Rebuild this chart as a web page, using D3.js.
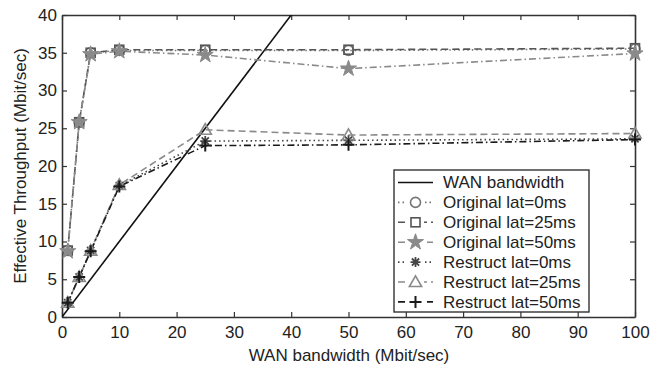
<!DOCTYPE html>
<html><head><meta charset="utf-8">
<script src="https://cdn.jsdelivr.net/npm/d3@7"></script>
<style>body{margin:0;background:#fff}svg{display:block}text{font-family:"Liberation Sans",Arial,sans-serif;fill:#222}</style>
</head><body>
<svg id="c" width="658" height="367"></svg>
<script>
const xValues = [1, 3, 5, 10, 25, 50, 100];
const wanX = [0, 100];
const wanY = [0, 100];
const origLat0 = [8.8, 25.8, 35.0, 35.3, 35.3, 35.3, 35.5];
const origLat25 = [8.8, 25.8, 35.0, 35.4, 35.4, 35.4, 35.6];
const origLat50 = [8.7, 25.8, 34.8, 35.2, 34.7, 32.9, 34.9];
const restLat0 = [1.9, 5.3, 8.8, 17.4, 23.3, 23.4, 23.6];
const restLat25 = [1.9, 5.3, 8.8, 17.5, 24.8, 24.1, 24.3];
const restLat50 = [1.9, 5.3, 8.7, 17.3, 22.7, 22.8, 23.5];
const xTicks = [0,10,20,30,40,50,60,70,80,90,100];
const yTicks = [0,5,10,15,20,25,30,35,40];
const seriesNames = ["Original lat=0ms","Original lat=25ms","Original lat=50ms","Restruct lat=0ms","Restruct lat=25ms","Restruct lat=50ms"];
const wanName = "WAN bandwidth";
const xLabel = "WAN bandwidth (Mbit/sec)";
const yLabel = "Effective Throughput (Mbit/sec)";

const svg = d3.select("#c");
const L=62, R=635, T=15, B=317;
const FS = 17;
const x = d3.scaleLinear().domain([0,100]).range([L,R]);
const y = d3.scaleLinear().domain([0,40]).range([B,T]);

const styles = [
  {data: origLat0, color:"#777", dash:"1.5,3", marker:"circle"},
  {data: origLat25, color:"#555", dash:"7,4", marker:"square"},
  {data: origLat50, color:"#8a8a8a", dash:"7,3,1.5,3", marker:"star"},
  {data: restLat0, color:"#444", dash:"1.5,3", marker:"asterisk"},
  {data: restLat25, color:"#8a8a8a", dash:"7,4", marker:"triangle"},
  {data: restLat50, color:"#1a1a1a", dash:"7,3,1.5,3", marker:"plus"}
];

svg.append("defs").append("clipPath").attr("id","clip").append("rect")
  .attr("x",L).attr("y",T).attr("width",R-L).attr("height",B-T);

const axC = "#333";
const gB = svg.append("g").attr("transform",`translate(0,${B})`)
  .call(d3.axisBottom(x).tickValues(xTicks).tickSizeInner(-5).tickSizeOuter(0).tickPadding(9));
const gT = svg.append("g").attr("transform",`translate(0,${T})`)
  .call(d3.axisTop(x).tickValues(xTicks).tickSizeInner(-5).tickSizeOuter(0).tickFormat(""));
const gL = svg.append("g").attr("transform",`translate(${L},0)`)
  .call(d3.axisLeft(y).tickValues(yTicks).tickSizeInner(-5).tickSizeOuter(0).tickPadding(5));
const gR = svg.append("g").attr("transform",`translate(${R},0)`)
  .call(d3.axisRight(y).tickValues(yTicks).tickSizeInner(-5).tickSizeOuter(0).tickFormat(""));
[gB,gT,gL,gR].forEach(g=>{
  g.select(".domain").attr("stroke",axC).attr("stroke-width",1.6);
  g.selectAll(".tick line").attr("stroke",axC).attr("stroke-width",1.2);
  g.selectAll(".tick text").attr("font-size",FS).attr("fill","#222").attr("font-family","Liberation Sans, Arial, sans-serif");
});

const plot = svg.append("g").attr("clip-path","url(#clip)");
plot.append("path").datum(wanX.map((v,i)=>[v,wanY[i]]))
  .attr("d", d3.line().x(d=>x(d[0])).y(d=>y(d[1])))
  .attr("fill","none").attr("stroke","#111").attr("stroke-width",1.6);

function drawMarker(g, type, cx, cy, color){
  const s = 5;
  if(type==="circle") g.append("circle").attr("cx",cx).attr("cy",cy).attr("r",s).attr("fill","none").attr("stroke",color).attr("stroke-width",1.6);
  else if(type==="square") g.append("rect").attr("x",cx-s+0.5).attr("y",cy-s+0.5).attr("width",2*s-1).attr("height",2*s-1).attr("fill","none").attr("stroke",color).attr("stroke-width",1.6);
  else if(type==="star") g.append("path").attr("transform",`translate(${cx},${cy})`).attr("d",d3.symbol(d3.symbolStar,80)()).attr("fill",color).attr("stroke",color);
  else if(type==="triangle") g.append("path").attr("transform",`translate(${cx},${cy+1})`).attr("d",d3.symbol(d3.symbolTriangle,65)()).attr("fill","none").attr("stroke",color).attr("stroke-width",1.6);
  else if(type==="plus"){
    g.append("path").attr("d",`M${cx-s-1},${cy}H${cx+s+1}M${cx},${cy-s-1}V${cy+s+1}`).attr("stroke",color).attr("stroke-width",2);
  } else if(type==="asterisk"){
    const a=s, b=s*0.72;
    g.append("path").attr("d",`M${cx-a},${cy}H${cx+a}M${cx},${cy-a}V${cy+a}M${cx-b},${cy-b}L${cx+b},${cy+b}M${cx-b},${cy+b}L${cx+b},${cy-b}`).attr("stroke",color).attr("stroke-width",1.8);
  }
}

const line = d3.line().x((d,i)=>x(xValues[i])).y(d=>y(d));
styles.forEach(st=>{
  plot.append("path").datum(st.data).attr("d",line).attr("fill","none")
    .attr("stroke",st.color).attr("stroke-width",1.6).attr("stroke-dasharray",st.dash);
});
styles.forEach(st=>{
  const g = svg.append("g");
  st.data.forEach((v,i)=>drawMarker(g, st.marker, x(xValues[i]), y(v), st.color));
});

// legend
const lg = svg.append("g");
lg.append("rect").attr("x",394).attr("y",170).attr("width",195).attr("height",142)
  .attr("fill","#fff").attr("stroke","#333").attr("stroke-width",1.4);
const rowY = i => 182.5 + i*19.9;
lg.append("line").attr("x1",398).attr("x2",433).attr("y1",rowY(0)).attr("y2",rowY(0)).attr("stroke","#111").attr("stroke-width",1.6);
lg.append("text").attr("x",443).attr("y",rowY(0)).attr("dy","0.35em").attr("font-size",FS).text(wanName);
styles.forEach((st,i)=>{
  const yy = rowY(i+1);
  lg.append("line").attr("x1",398).attr("x2",433).attr("y1",yy).attr("y2",yy).attr("stroke",st.color).attr("stroke-width",1.6).attr("stroke-dasharray",st.dash);
  const mg = lg.append("g");
  mg.append("rect").attr("x",407).attr("y",yy-7).attr("width",17).attr("height",14).attr("fill","#fff");
  drawMarker(mg, st.marker, 415.5, yy, st.color);
  lg.append("text").attr("x",443).attr("y",yy).attr("dy","0.35em").attr("font-size",FS).text(seriesNames[i]);
});

svg.append("text").attr("x",349).attr("y",361).attr("text-anchor","middle").attr("font-size",FS).text(xLabel);
svg.append("text").attr("transform",`translate(26,${(T+B)/2}) rotate(-90)`).attr("text-anchor","middle").attr("font-size",FS).text(yLabel);
</script>
</body></html>
